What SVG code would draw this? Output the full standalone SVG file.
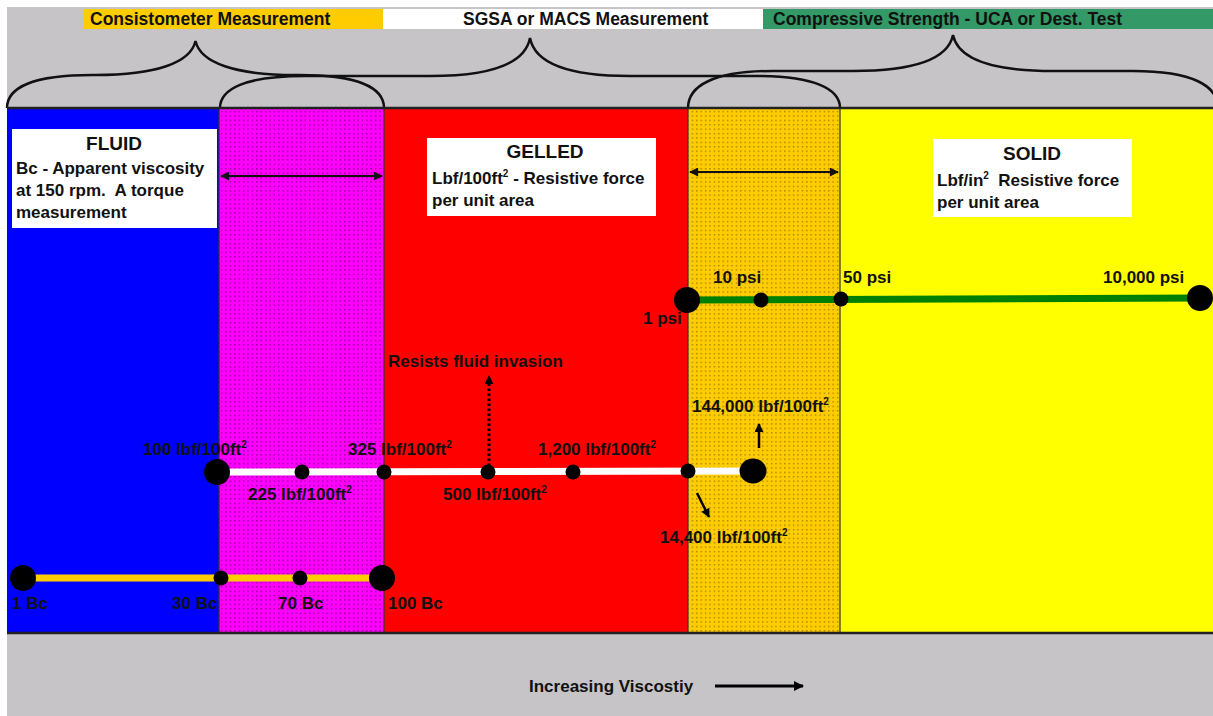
<svg xmlns="http://www.w3.org/2000/svg" width="1213" height="716" viewBox="0 0 1213 716">
<style>
text{font-family:"Liberation Sans",Arial,sans-serif;font-weight:bold;fill:#111}
.h{font-size:17.5px}
.t{font-size:19px}
.b{font-size:17px}
.l{font-size:17px}
.sup{font-size:10px}
.brace{fill:none;stroke:#111;stroke-width:2.5}
.vb{stroke:#333;stroke-width:1.2}
.box{fill:#fff}
.dot{fill:#000}
.dbl{stroke:#111;stroke-width:1.8;marker-start:url(#ah);marker-end:url(#ah)}
</style>
<defs>
<pattern id="pm" width="4.4" height="4.4" patternUnits="userSpaceOnUse">
<rect width="4.4" height="4.4" fill="#FF00FF"/>
<rect x="1" y="1" width="1.2" height="1.2" fill="#000" opacity="0.6"/>
</pattern>
<pattern id="po" width="4.4" height="4.4" patternUnits="userSpaceOnUse">
<rect width="4.4" height="4.4" fill="#FFCC00"/>
<rect x="1" y="1" width="1.2" height="1.2" fill="#3a2a00" opacity="0.6"/>
</pattern>
<marker id="ah" viewBox="0 0 10 10" refX="9" refY="5" markerWidth="10" markerHeight="9" orient="auto-start-reverse" markerUnits="userSpaceOnUse">
<path d="M0,0 L10,5 L0,10 z" fill="#111"/>
</marker>
<marker id="ah2" viewBox="0 0 10 10" refX="9" refY="5" markerWidth="10" markerHeight="9" orient="auto" markerUnits="userSpaceOnUse">
<path d="M0,0 L10,5 L0,10 z" fill="#000"/>
</marker>
<marker id="ah3" viewBox="0 0 10 10" refX="9" refY="5" markerWidth="12" markerHeight="10" orient="auto" markerUnits="userSpaceOnUse">
<path d="M0,0 L10,5 L0,10 z" fill="#000"/>
</marker>
</defs>

<rect width="1213" height="716" fill="#fff"/>
<rect id="panel" x="7" y="7" width="1206" height="709" fill="#C6C4C7"/>

<g id="header">
<rect x="83" y="9" width="300" height="20" fill="#FFCC00"/>
<rect x="383" y="9" width="380" height="20" fill="#fff"/>
<rect x="763" y="9" width="450" height="20" fill="#339966"/>
<text class="h" x="90" y="25">Consistometer Measurement</text>
<text class="h" x="463" y="25">SGSA or MACS Measurement</text>
<text class="h" x="773" y="25">Compressive Strength - UCA or Dest. Test</text>
</g>

<g id="braces">
<path class="brace" d="M7,108 C7,88 32,75 92,75 L95.5,75 C155.5,75 190.5,63 195.5,41 C200.5,63 235.5,75 295.5,75 L299,75 C359,75 384,88 384,108"/>
<path class="brace" d="M220,108 C220,89 245,76 305,76 L430,76 C490,76 525,64 530,38 C535,64 570,76 630,76 L755,76 C815,76 840,89 840,108"/>
<path class="brace" d="M688,108 C688,86 713,71 773,71 L853,71 C913,71 948,59 953,35 C958,59 993,71 1053,71 L1133,71 C1193,71 1218,86 1218,108"/>
</g>

<g id="regions">
<rect id="fluid" x="7" y="108" width="212" height="525" fill="#0000FF"/>
<rect id="transition1" x="219" y="108" width="165" height="525" fill="url(#pm)"/>
<rect id="gelled" x="384" y="108" width="304" height="525" fill="#FF0000"/>
<rect id="transition2" x="688" y="108" width="152" height="525" fill="url(#po)"/>
<rect id="solid" x="840" y="108" width="373" height="525" fill="#FFFF00"/>
<line class="vb" x1="219" y1="108" x2="219" y2="633"/>
<line class="vb" x1="384" y1="108" x2="384" y2="633"/>
<line class="vb" x1="688" y1="108" x2="688" y2="633"/>
<line class="vb" x1="840" y1="108" x2="840" y2="633"/>
<line x1="7" y1="108" x2="1213" y2="108" stroke="#222" stroke-width="2.5"/>
<line x1="7" y1="633" x2="1213" y2="633" stroke="#222" stroke-width="2.5"/>
</g>

<g id="box-fluid">
<rect class="box" x="12" y="129" width="205" height="99"/>
<text class="t" x="114" y="150" text-anchor="middle">FLUID</text>
<text class="b" x="16" y="174">Bc - Apparent viscosity</text>
<text class="b" x="16" y="196" xml:space="preserve">at 150 rpm.  A torque</text>
<text class="b" x="16" y="218">measurement</text>
</g>

<g id="box-gelled">
<rect class="box" x="427" y="138" width="229" height="78"/>
<text class="t" x="545" y="158" text-anchor="middle">GELLED</text>
<text class="b" x="432" y="184">Lbf/100ft<tspan class="sup" dy="-7">2</tspan><tspan dy="7"> - Resistive force</tspan></text>
<text class="b" x="432" y="206">per unit area</text>
</g>

<g id="box-solid">
<rect class="box" x="933" y="139" width="199" height="78"/>
<text class="t" x="1032" y="160" text-anchor="middle">SOLID</text>
<text class="b" x="937" y="186" xml:space="preserve">Lbf/in<tspan class="sup" dy="-7">2</tspan><tspan dy="7">  Resistive force</tspan></text>
<text class="b" x="937" y="208">per unit area</text>
</g>

<g id="connectors">
<line class="dbl" x1="221" y1="176" x2="382" y2="176"/>
<line class="dbl" x1="690" y1="172" x2="838" y2="172"/>
<line x1="687" y1="300" x2="1200" y2="298" stroke="#008000" stroke-width="7"/>
<line x1="217" y1="472" x2="753" y2="471" stroke="#fff" stroke-width="7"/>
<line x1="23" y1="578" x2="382" y2="578" stroke="#FFCC00" stroke-width="7"/>
<line x1="489" y1="466" x2="489" y2="376" stroke="#000" stroke-width="3" stroke-dasharray="2.5,2.5" marker-end="url(#ah2)"/>
<line x1="759" y1="448" x2="759" y2="424" stroke="#000" stroke-width="2.5" marker-end="url(#ah2)"/>
<line x1="697" y1="493" x2="709" y2="517" stroke="#000" stroke-width="2.5" marker-end="url(#ah2)"/>
<line x1="715" y1="686" x2="803" y2="686" stroke="#000" stroke-width="3" marker-end="url(#ah3)"/>
</g>

<g id="dots">
<circle class="dot" cx="687" cy="300" r="13"/>
<circle class="dot" cx="761" cy="300" r="7.5"/>
<circle class="dot" cx="841" cy="299" r="7.5"/>
<circle class="dot" cx="1200" cy="298" r="13"/>
<circle class="dot" cx="217" cy="472" r="13"/>
<circle class="dot" cx="302" cy="472" r="7.5"/>
<circle class="dot" cx="384" cy="472" r="7.5"/>
<circle class="dot" cx="488" cy="472" r="7.5"/>
<circle class="dot" cx="573" cy="472" r="7.5"/>
<circle class="dot" cx="688" cy="471" r="7.5"/>
<ellipse class="dot" cx="753" cy="471" rx="13.5" ry="12.5"/>
<circle class="dot" cx="23" cy="578" r="13"/>
<circle class="dot" cx="221" cy="578" r="7.5"/>
<circle class="dot" cx="300" cy="578" r="7.5"/>
<circle class="dot" cx="382" cy="578" r="13"/>
</g>

<g id="labels">
<text class="l" x="713" y="283">10 psi</text>
<text class="l" x="843" y="283">50 psi</text>
<text class="l" x="1103" y="283">10,000 psi</text>
<text class="l" x="643" y="324">1 psi</text>
<text class="l" x="388" y="367">Resists fluid invasion</text>
<text class="l" x="692" y="412">144,000 lbf/100ft<tspan class="sup" dy="-7">2</tspan></text>
<text class="l" x="143" y="455">100 lbf/100ft<tspan class="sup" dy="-7">2</tspan></text>
<text class="l" x="348" y="455">325 lbf/100ft<tspan class="sup" dy="-7">2</tspan></text>
<text class="l" x="538" y="455">1,200 lbf/100ft<tspan class="sup" dy="-7">2</tspan></text>
<text class="l" x="248" y="500">225 lbf/100ft<tspan class="sup" dy="-7">2</tspan></text>
<text class="l" x="443" y="500">500 lbf/100ft<tspan class="sup" dy="-7">2</tspan></text>
<text class="l" x="660" y="543">14,400 lbf/100ft<tspan class="sup" dy="-7">2</tspan></text>
<text class="l" x="12" y="609">1 Bc</text>
<text class="l" x="172" y="609">30 Bc</text>
<text class="l" x="278" y="609">70 Bc</text>
<text class="l" x="388" y="609">100 Bc</text>
<text class="l" x="529" y="692">Increasing Viscostiy</text>
</g>
</svg>
